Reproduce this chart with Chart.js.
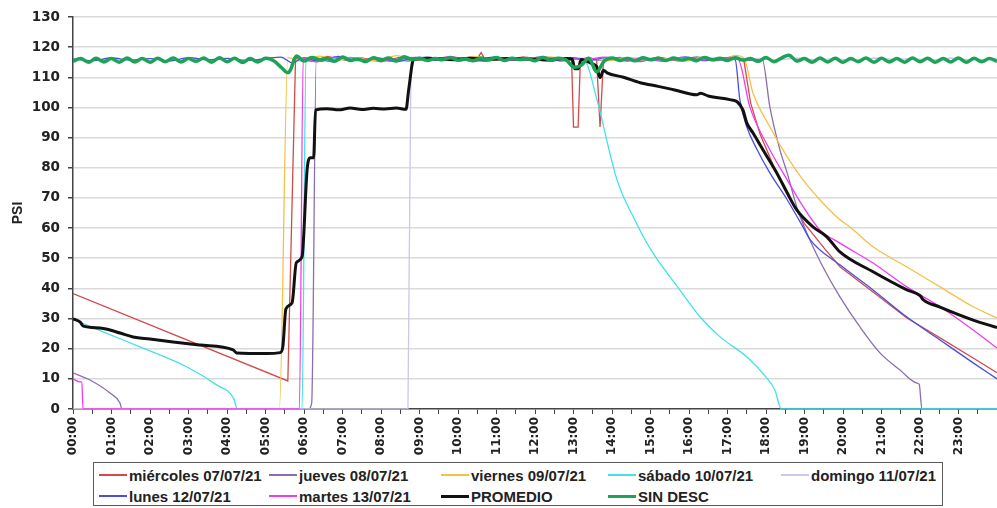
<!DOCTYPE html>
<html>
<head>
<meta charset="utf-8">
<script src="https://cdn.jsdelivr.net/npm/chart.js@4.4.1/dist/chart.umd.min.js"></script>
<style>
  html, body { margin: 0; padding: 0; background: #fff; }
  #wrap { position: relative; width: 997px; height: 508px; overflow: hidden; }
  #legend {
    position: absolute; left: 93px; top: 462px; width: 850px; height: 44px;
    border: 1.5px solid #5a5a5a; box-sizing: border-box; background: #fff;
    font: bold 15px 'Liberation Sans', Arial, sans-serif; color: #222;
  }
  .lg-item { position: absolute; height: 18px; display: flex; align-items: center; white-space: nowrap; }
  .lg-line { width: 28px; margin-right: 2px; }
</style>
</head>
<body>
<div id="wrap">
  <canvas id="chart" width="997" height="508"></canvas>
  <div id="legend"></div>
</div>
<script>
// presión por hora del día (h, PSI)
const miercoles = [
  [0, 38.3], [5.58, 9.3], [5.78, 116.2], [6.2, 115.3], [6.6, 116.9], [7.1, 115.6], [7.5, 116.4], [8.0, 115.1],
  [8.5, 116.7], [9.0, 115.8], [9.5, 116.5], [10.0, 115.4], [10.5, 116.2], [10.6, 118.2], [10.7, 116.0],
  [11.2, 115.7], [11.7, 116.8], [12.2, 115.5], [12.6, 116.4], [12.95, 116.0], [13.0, 93.5], [13.12, 93.5],
  [13.18, 116.0], [13.4, 116.6], [13.6, 115.8], [13.69, 93.5], [13.78, 116.2], [14.2, 116.5], [14.7, 115.6],
  [15.2, 116.7], [15.7, 115.5], [16.2, 116.4], [16.7, 115.9], [17.1, 116.8], [17.42, 116.0],
  [17.6, 101.5], [17.85, 91.0], [18.2, 80.5], [18.6, 70.0], [19.0, 61.5], [19.5, 53.5], [19.92, 47.2],
  [20.78, 38.8], [21.66, 30.2], [22.52, 23.6], [23.38, 16.9], [24, 12.0]
];
const jueves = [
  [0, 12.0], [0.44, 9.6], [0.96, 5.3], [1.22, 2.0], [1.27, 0], [6.12, 0], [6.2, 2.0], [6.32, 116.4],
  [6.7, 115.2], [7.2, 116.6], [7.7, 115.5], [8.2, 116.3], [8.7, 115.4], [9.2, 116.8], [9.7, 115.6],
  [10.2, 116.1], [10.7, 115.3], [11.2, 116.5], [11.7, 115.8], [12.2, 116.9], [12.7, 115.4], [13.2, 116.3],
  [13.7, 115.6], [14.2, 116.6], [14.7, 115.2], [15.2, 116.4], [15.7, 115.7], [16.2, 116.8], [16.7, 115.5],
  [17.2, 116.2], [17.6, 115.6], [17.9, 116.0],
  [18.1, 100.2], [18.36, 86.0], [18.55, 78.3], [18.8, 67.0], [19.06, 58.4], [19.48, 47.1], [19.92, 37.2],
  [20.44, 27.2], [20.96, 18.6], [21.48, 12.9], [21.92, 8.6], [21.98, 8.2], [22.05, 0], [24, 0]
];
const viernes = [
  [0, 0], [5.36, 0], [5.58, 116.5], [5.9, 115.4], [6.4, 117.0], [6.9, 115.8], [7.4, 116.3], [7.9, 115.5],
  [8.4, 117.2], [8.9, 115.9], [9.4, 116.4], [9.9, 115.3], [10.4, 116.9], [10.9, 115.7], [11.4, 116.3],
  [11.9, 115.6], [12.4, 116.8], [12.9, 115.8], [13.4, 116.2], [13.9, 115.5], [14.4, 116.6], [14.9, 115.9],
  [15.4, 116.3], [15.9, 115.4], [16.4, 116.7], [16.9, 115.8], [17.2, 117.3], [17.42, 116.5],
  [17.66, 104.9], [18.1, 93.6], [18.55, 83.6], [18.96, 76.0], [19.4, 69.4], [19.84, 63.7], [20.27, 59.4],
  [20.78, 53.8], [21.66, 47.1], [22.52, 40.5], [23.38, 33.9], [24, 30.2]
];
const sabado = [
  [0, 29.8], [0.8, 25.5], [1.74, 20.6], [2.95, 14.0], [3.73, 8.0], [4.17, 3.6], [4.27, 0], [5.95, 0],
  [6.05, 116.2], [6.5, 115.4], [7.0, 116.8], [7.5, 115.7], [8.0, 116.3], [8.5, 115.5], [9.0, 116.6],
  [9.5, 115.9], [10.0, 116.4], [10.5, 115.3], [11.0, 116.7], [11.5, 115.6], [12.0, 116.2], [12.5, 115.8],
  [13.0, 116.5], [13.3, 115.5], [13.6, 103.0], [14.13, 76.0], [14.6, 62.5], [15.0, 53.0], [15.76, 39.5],
  [16.29, 30.5], [16.8, 24.0], [17.5, 17.3], [18.0, 10.6], [18.23, 6.3], [18.4, 0], [24, 0]
];
const domingo = [
  [0, 0], [8.7, 0], [8.78, 116.3], [9.3, 115.6], [9.8, 116.5], [10.3, 115.8], [10.8, 116.2], [11.3, 115.4],
  [11.8, 116.6], [12.3, 115.7], [12.8, 116.3], [13.3, 115.9], [13.8, 116.4], [14.3, 115.5], [14.8, 116.7],
  [15.3, 115.8], [15.8, 116.2], [16.3, 115.6], [16.8, 116.5], [17.3, 115.9], [17.8, 116.3], [18.3, 115.7],
  [18.8, 116.4], [19.3, 115.8], [19.8, 116.2], [20.3, 115.6], [20.8, 116.4], [21.3, 115.9], [21.8, 116.2],
  [22.3, 115.7], [22.8, 116.4], [23.3, 115.8], [24, 116.1]
];
const lunes = [
  [0, 116.1], [0.5, 115.5], [1.0, 116.4], [1.5, 115.7], [2.0, 116.2], [2.5, 115.4], [3.0, 116.5], [3.5, 115.8],
  [4.0, 116.3], [4.5, 115.6], [5.0, 116.2], [5.4, 116.7], [5.7, 114.8], [6.0, 116.5], [6.4, 115.3],
  [6.9, 116.9], [7.4, 115.5], [7.9, 116.4], [8.4, 115.2], [8.9, 116.6], [9.4, 115.7], [9.9, 116.2],
  [10.4, 115.4], [10.9, 116.7], [11.4, 115.6], [11.9, 116.3], [12.4, 115.3], [12.9, 116.5], [13.4, 115.7],
  [13.9, 116.6], [14.4, 115.4], [14.9, 116.3], [15.4, 115.6], [15.9, 116.8], [16.4, 115.5], [16.9, 116.4],
  [17.2, 115.8], [17.32, 102.6], [17.5, 93.6], [17.77, 86.0], [18.1, 78.3], [18.55, 69.4], [18.96, 60.4],
  [19.15, 56.1], [19.92, 47.8], [20.78, 39.5], [21.66, 30.5], [22.52, 22.9], [23.38, 15.3], [24, 10.0]
];
const martes = [
  [0, 10.0], [0.18, 9.0], [0.23, 9.0], [0.26, 0], [5.88, 0], [5.98, 116.4], [6.3, 115.1], [6.8, 116.7],
  [7.3, 115.6], [7.8, 116.1], [8.3, 115.3], [8.8, 116.6], [9.3, 115.8], [9.8, 116.9], [10.3, 115.5],
  [10.8, 116.3], [11.3, 115.7], [11.8, 116.5], [12.3, 115.4], [12.8, 116.2], [13.3, 115.9], [13.8, 116.7],
  [14.3, 115.6], [14.8, 116.2], [15.3, 115.3], [15.8, 116.6], [16.3, 115.7], [16.8, 116.4], [17.27, 116.0],
  [17.58, 100.2], [18.1, 86.0], [18.55, 76.0], [18.97, 67.0], [19.4, 59.4], [19.92, 55.0], [20.78, 48.4],
  [21.66, 40.5], [22.52, 33.9], [23.38, 26.2], [24, 20.2]
];
const promedio = [
  [0, 29.9], [0.18, 28.9], [0.27, 27.5], [0.7, 26.9], [0.96, 26.2], [1.22, 25.2], [1.56, 23.9], [2.0, 23.2],
  [2.6, 22.2], [3.3, 21.2], [4.16, 19.6], [4.25, 18.6], [5.03, 18.4], [5.38, 18.7], [5.45, 20.6],
  [5.53, 33.2], [5.69, 35.2], [5.8, 48.5], [5.95, 50.5], [6.08, 79.3], [6.16, 83.3], [6.25, 83.3],
  [6.3, 99.2], [6.6, 99.6], [6.9, 99.2], [7.2, 99.8], [7.5, 99.3], [7.8, 99.7], [8.1, 99.5], [8.4, 99.8],
  [8.65, 99.4], [8.72, 106.0], [8.85, 116.0], [9.3, 116.2], [9.8, 115.9], [10.3, 116.3], [10.8, 116.0],
  [11.3, 116.2], [11.8, 116.1], [12.3, 115.9], [12.8, 116.2], [12.97, 116.0], [13.03, 112.8], [13.12, 112.8],
  [13.2, 115.9], [13.3, 115.6], [13.5, 114.4], [13.6, 113.6], [13.69, 109.9], [13.78, 112.3], [13.87, 111.5],
  [14.3, 110.0], [14.73, 108.2], [15.2, 107.0], [15.6, 105.9], [16.2, 104.2], [16.3, 104.7], [16.5, 103.8],
  [17.06, 102.6], [17.25, 101.9], [17.4, 99.2], [17.5, 94.9], [17.66, 91.6], [17.92, 86.0], [18.28, 78.3],
  [18.55, 71.7], [18.8, 66.0], [19.22, 60.4], [19.58, 57.1], [19.92, 52.1], [20.78, 45.5], [21.66, 39.5],
  [22.0, 37.6], [22.08, 36.3], [22.52, 33.8], [23.38, 29.5], [24, 27.0]
];
// SIN DESC: one reading every 0.2 h from 00:00
const SIN_DESC_STEP = 0.2;
const sinDesc = [
  115.3, 116.2, 115.0, 116.3, 115.1, 116.2, 115.0, 116.4, 115.1, 116.2,
  115.0, 116.3, 115.2, 116.4, 115.1, 116.2, 115.3, 116.4, 115.0, 116.5,
  115.2, 116.3, 114.9, 116.2, 115.1, 116.3, 115.6, 113.4, 111.6, 117.0,
  115.4, 116.6, 115.8, 116.2, 115.3, 116.7, 115.6, 116.1, 115.2, 116.5,
  115.7, 116.4, 115.4, 116.8, 115.9, 116.3, 115.6, 116.2, 115.8, 116.5,
  115.7, 116.1, 115.5, 116.4, 115.8, 116.6, 115.6, 116.3, 115.9, 116.2,
  115.5, 116.6, 115.7, 116.3, 115.8, 113.4, 114.0, 116.3, 111.8, 115.4,
  116.4, 115.6, 116.2, 115.5, 116.5, 115.8, 116.3, 115.6, 116.4, 115.7,
  116.2, 115.5, 116.6, 115.8, 116.3, 115.6, 116.5, 115.7, 116.2, 115.3,
  116.6, 115.2, 116.4, 117.3, 115.4, 116.2, 115.0, 116.4, 115.1, 116.3,
  115.0, 116.2, 115.2, 116.4, 115.0, 116.3, 115.1, 116.2, 115.0, 116.4,
  115.2, 116.3, 115.0, 116.2, 115.1, 116.4, 115.0, 116.3, 115.2, 116.2,
  115.3
];

// curve: 'straight' | 'monotone' | 'wave'
const SERIES = [
  { label: 'miércoles 07/07/21', data: miercoles, color: '#d24a4a', width: 1.3, curve: 'straight' },
  { label: 'jueves 08/07/21',    data: jueves,    color: '#8a6fb0', width: 1.3, curve: 'monotone' },
  { label: 'viernes 09/07/21',   data: viernes,   color: '#f5c04a', width: 1.3, curve: 'monotone' },
  { label: 'sábado 10/07/21',    data: sabado,    color: '#3fe3e8', width: 1.3, curve: 'monotone' },
  { label: 'domingo 11/07/21',   data: domingo,   color: '#cdc6ee', width: 1.3, curve: 'straight' },
  { label: 'lunes 12/07/21',     data: lunes,     color: '#4a4de0', width: 1.3, curve: 'monotone' },
  { label: 'martes 13/07/21',    data: martes,    color: '#f03cf0', width: 1.3, curve: 'monotone' },
  { label: 'PROMEDIO',           data: promedio,  color: '#111111', width: 3,   curve: 'monotone' },
  { label: 'SIN DESC',
    data: sinDesc.map((v, i) => [i * SIN_DESC_STEP, v]),
    color: '#1ca358', width: 3.5, curve: 'wave' },
];

const pad2 = n => String(n).padStart(2, '0');

// later series sit on top
const datasets = SERIES.map((s, i) => ({
  label: s.label,
  data: s.data.map(([x, y]) => ({ x, y })),
  borderColor: s.color,
  borderWidth: s.width,
  pointRadius: 0,
  tension: s.curve === 'wave' ? 0.35 : 0,
  cubicInterpolationMode: s.curve === 'monotone' ? 'monotone' : 'default',
  fill: false,
  order: SERIES.length - i,
}));

new Chart(document.getElementById('chart'), {
  type: 'line',
  data: { datasets },
  options: {
    responsive: false,
    animation: false,
    layout: { padding: { top: 17, right: 0, bottom: 47, left: 0 } },
    plugins: { legend: { display: false }, tooltip: { enabled: false } },
    scales: {
      x: {
        type: 'linear',
        min: 0,
        max: 24,
        afterBuildTicks: axis => {
          const t = [];
          for (let h = 0; h <= 24; h += 0.5) t.push({ value: h });
          axis.ticks = t;
        },
        afterFit: axis => { axis.height = 52; axis.paddingLeft = 0; axis.paddingRight = 0; },
        ticks: {
          autoSkip: false,
          minRotation: 90,
          maxRotation: 90,
          padding: 3,
          color: '#222',
          font: { family: "'DejaVu Sans', sans-serif", weight: 'bold', size: 12 },
          callback: v => (Number.isInteger(v) && v < 24 ? pad2(v) + ':00' : ''),
        },
        grid: { drawOnChartArea: false, tickLength: 5, tickColor: '#444', lineWidth: 1 },
        border: { display: true, color: '#444', width: 1.5 },
      },
      y: {
        min: 0,
        max: 130,
        afterBuildTicks: axis => {
          const t = [];
          for (let v = 0; v <= 130; v += 5) t.push({ value: v });
          axis.ticks = t;
        },
        afterFit: axis => { axis.width = 73; },
        ticks: {
          padding: 8,
          color: '#222',
          font: { family: "'DejaVu Sans', sans-serif", weight: 'bold', size: 13.5 },
          callback: v => (v % 10 === 0 ? v : ''),
        },
        grid: {
          color: ctx => (ctx.tick && ctx.tick.value % 10 === 0 && ctx.tick.value > 0 ? '#dadada' : 'rgba(0,0,0,0)'),
          lineWidth: 1.5,
          tickLength: 5,
          tickColor: '#444',
        },
        border: { display: true, color: '#444', width: 1.5 },
        title: {
          display: true,
          text: 'PSI',
          color: '#222',
          padding: { top: 10, bottom: 0 },
          font: { family: "'Liberation Sans', Arial, sans-serif", weight: 'bold', size: 14 },
        },
      },
    },
  },
});

// legend box: five columns, two rows
const LEGEND_COLS = [5, 175, 347, 514, 687];
const LEGEND_ROWS = [3, 24];
const legend = document.getElementById('legend');
SERIES.forEach((s, i) => {
  const item = document.createElement('div');
  item.className = 'lg-item';
  item.style.left = LEGEND_COLS[i % 5] + 'px';
  item.style.top = LEGEND_ROWS[Math.floor(i / 5)] + 'px';
  const line = document.createElement('span');
  line.className = 'lg-line';
  line.style.height = (s.width > 2 ? 3 : 1.5) + 'px';
  line.style.background = s.color;
  const txt = document.createElement('span');
  txt.textContent = s.label;
  item.appendChild(line);
  item.appendChild(txt);
  legend.appendChild(item);
});
</script>
</body>
</html>
